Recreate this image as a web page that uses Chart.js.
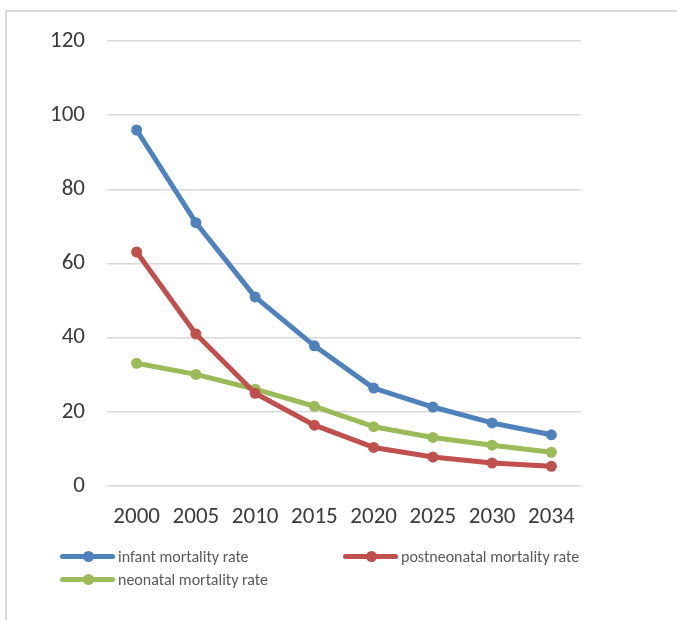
<!DOCTYPE html>
<html>
<head>
<meta charset="utf-8">
<script src="https://cdn.jsdelivr.net/npm/chart.js@4.4.0/dist/chart.umd.min.js"></script>
<style>
  html, body { margin: 0; padding: 0; background: #ffffff; width: 677px; height: 620px; overflow: hidden; }
  #frame { position: absolute; left: 5px; top: 10px; width: 700px; height: 700px; border: 2px solid #d9d9d9; box-sizing: border-box; }
  #wrap { position: absolute; left: 0; top: 0; width: 677px; height: 540px; }
  #legend { position: absolute; left: 0; top: 0; width: 677px; height: 620px; pointer-events: none;
            font-family: Carlito, "Open Sans", "Liberation Sans", sans-serif; font-size: 16px; color: #595959; }
  .item { position: absolute; display: flex; align-items: center; height: 20px; white-space: nowrap; }
  .sw { position: relative; width: 55px; height: 20px; margin-right: 3px; }
  .sw .ln { position: absolute; left: 0; right: 0; top: 8px; height: 5px; border-radius: 3px; }
  .sw .dt { position: absolute; left: 23px; top: 5px; width: 11px; height: 11px; border-radius: 50%; }
</style>
</head>
<body>
<div id="frame"></div>
<div id="wrap"><canvas id="c" width="677" height="540"></canvas></div>
<div id="legend"></div>
<script>
const categories = ["2000", "2005", "2010", "2015", "2020", "2025", "2030", "2034"];
const infantRate = [96, 71, 51, 37.8, 26.4, 21.3, 17, 13.8];
const postneonatalRate = [63.1, 41, 25, 16.4, 10.4, 7.8, 6.2, 5.3];
const neonatalRate = [33.1, 30.1, 26.1, 21.5, 16, 13.1, 11, 9.1];
const seriesNames = ["infant mortality rate", "postneonatal mortality rate", "neonatal mortality rate"];
const seriesColors = ["#4F81BD", "#C0504D", "#9BBB59"];
const yTicks = [0, 20, 40, 60, 80, 100, 120];

const seriesValues = [infantRate, postneonatalRate, neonatalRate];
const datasets = seriesNames.map((name, i) => ({
  label: name,
  data: seriesValues[i],
  borderColor: seriesColors[i],
  backgroundColor: seriesColors[i],
  borderWidth: 5,
  pointRadius: 5.5,
  pointHoverRadius: 5.5,
  pointBorderWidth: 0,
  tension: 0,
  borderCapStyle: 'round',
  borderJoinStyle: 'round'
}));

const tickFont = { family: 'Carlito, "Open Sans", "Liberation Sans", sans-serif', size: 23 };

new Chart(document.getElementById('c'), {
  type: 'line',
  data: { labels: categories, datasets },
  options: {
    responsive: false,
    animation: false,
    layout: { padding: { left: 0, top: 41, right: 96, bottom: 0 } },
    plugins: { legend: { display: false }, tooltip: { enabled: false } },
    scales: {
      x: {
        offset: true,
        grid: { display: false, drawTicks: false },
        border: { display: false },
        ticks: { font: tickFont, color: '#3a3a3a', padding: 17, maxRotation: 0, autoSkip: false },
        afterFit: s => { s.height = 54; }
      },
      y: {
        min: 0, max: 120,
        afterBuildTicks: s => { s.ticks = yTicks.map(v => ({ value: v })); },
        grid: { color: '#d9d9d9', lineWidth: 1.5, drawTicks: false },
        border: { display: false },
        ticks: { font: tickFont, color: '#3a3a3a', padding: 22 },
        afterFit: s => { s.width = 107; }
      }
    }
  }
});

const legendPos = [[60, 546], [343, 546], [60, 569]];
const legend = document.getElementById('legend');
seriesNames.forEach((name, i) => {
  const it = document.createElement('div');
  it.className = 'item';
  it.style.left = legendPos[i][0] + 'px';
  it.style.top = legendPos[i][1] + 'px';
  it.innerHTML = '<div class="sw"><div class="ln" style="background:' + seriesColors[i] + '"></div><div class="dt" style="background:' + seriesColors[i] + '"></div></div><span></span>';
  it.querySelector('span').textContent = name;
  legend.appendChild(it);
});
</script>
</body>
</html>
